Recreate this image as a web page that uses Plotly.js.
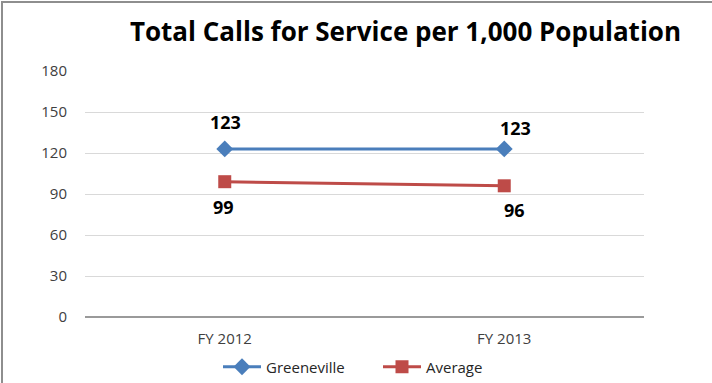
<!DOCTYPE html>
<html>
<head>
<meta charset="utf-8">
<script src="https://cdn.plot.ly/plotly-3.0.1.min.js"></script>
<style>
  html, body { margin: 0; padding: 0; background: #fff; }
  #wrap { position: relative; width: 712px; height: 383px; }
  #frame { position: absolute; left: 1px; top: 1px; width: 720px; height: 400px;
           border-left: 2px solid #8e8e8e; border-top: 2px solid #8e8e8e; pointer-events: none; z-index: 5; }
  #chart { position: absolute; left: 0; top: 0; width: 712px; height: 383px; }
</style>
</head>
<body>
<div id="wrap">
  <div id="chart"></div>
  <div id="frame"></div>
</div>
<script>
const categories = ["FY 2012", "FY 2013"];
const greeneville = [123, 123];
const average = [99, 96];
const yTicks = [0, 30, 60, 90, 120, 150, 180];

const FONT = "Open Sans, DejaVu Sans, sans-serif";
const labelFont = { family: FONT, size: 18, color: "#000000" };

const traces = [
  {
    x: categories, y: greeneville, name: "Greeneville",
    type: "scatter", mode: "lines+markers",
    line: { color: "#4A7EBB", width: 3 },
    marker: { symbol: "diamond", size: 13, color: "#4A7EBB" }
  },
  {
    x: categories, y: average, name: "Average",
    type: "scatter", mode: "lines+markers",
    line: { color: "#BE4B48", width: 3 },
    marker: { symbol: "square", size: 13, color: "#BE4B48" }
  }
];

// data labels placed through the axes from the series arrays
const gShift = [{ dx: 1, dy: 27 }, { dx: 11, dy: 21 }];
const aShift = [{ dx: -1, dy: -25 }, { dx: 10, dy: -24 }];
const annotations = [];
categories.forEach((c, i) => {
  annotations.push({
    x: c, y: greeneville[i], xref: "x", yref: "y", text: "<b>" + greeneville[i] + "</b>",
    showarrow: false, font: labelFont, xshift: gShift[i].dx, yshift: gShift[i].dy,
    xanchor: "center", yanchor: "middle"
  });
  annotations.push({
    x: c, y: average[i], xref: "x", yref: "y", text: "<b>" + average[i] + "</b>",
    showarrow: false, font: labelFont, xshift: aShift[i].dx, yshift: aShift[i].dy,
    xanchor: "center", yanchor: "middle"
  });
});

const layout = {
  width: 712, height: 383,
  paper_bgcolor: "#ffffff", plot_bgcolor: "#ffffff",
  margin: { l: 85, r: 68, t: 71, b: 66 },
  showlegend: true,
  title: {
    text: "<b>Total Calls for Service per 1,000 Population</b>",
    font: { family: FONT, size: 26, color: "#000000" },
    x: 0.5695, xanchor: "center", y: 0.916, yanchor: "middle"
  },
  font: { family: FONT, size: 15, color: "#404040" },
  xaxis: {
    type: "category", range: [-0.5, 1.5], automargin: false,
    showgrid: false, zeroline: false, showline: false,
    ticks: "", ticklabelstandoff: 11,
    tickfont: { family: FONT, size: 15, color: "#404040" },
    fixedrange: true
  },
  yaxis: {
    range: [0, 180], tickvals: yTicks, ticktext: yTicks.map(String), automargin: false,
    showgrid: true, gridcolor: "#d9d9d9", gridwidth: 1,
    zeroline: true, zerolinecolor: "#9a9a9a", zerolinewidth: 2,
    showline: false, ticks: "", ticklabelstandoff: 17,
    tickfont: { family: FONT, size: 15, color: "#404040" },
    fixedrange: true
  },
  legend: {
    orientation: "h", xref: "container", yref: "container",
    x: 218 / 712, xanchor: "left", y: 16 / 383, yanchor: "middle",
    font: { family: FONT, size: 15, color: "#262626" }, itemwidth: 38, traceorder: "normal",
    entrywidth: 107, entrywidthmode: "pixels"
  },
  annotations: annotations
};

Plotly.newPlot("chart", traces, layout, { displayModeBar: false, staticPlot: true });
</script>
</body>
</html>
